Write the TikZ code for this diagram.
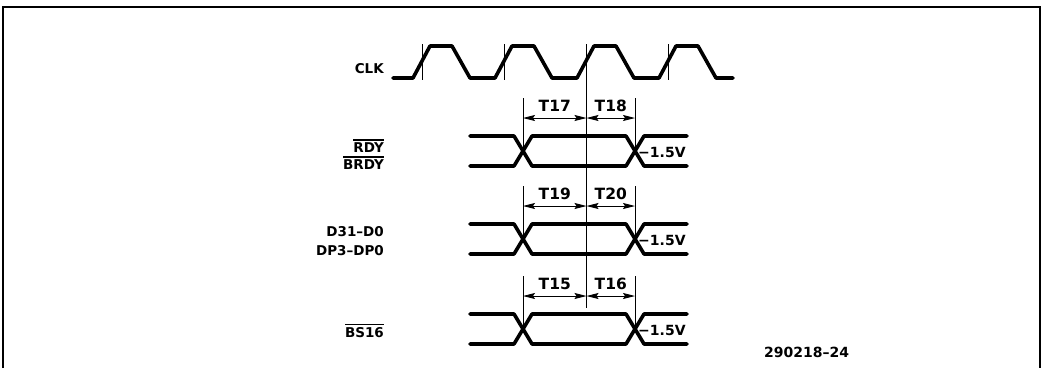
\documentclass[tikz,border=0pt]{standalone}
\usepackage{fontspec}
\setmainfont{DejaVu Sans}
\usepackage{tikz}
\usetikzlibrary{arrows.meta,positioning}
\newcommand{\ovl}[1]{\setbox0\hbox{#1}\rlap{\rule[\dimexpr\ht0+1.5pt\relax]{\wd0}{1.3pt}}\box0}

\begin{document}
\begin{tikzpicture}[
  x=1pt, y=-1pt,
  sig/.style={line width=3.6pt,line cap=round,line join=round},
  hair/.style={line width=0.9pt},
  dim/.style={{Stealth[length=12pt,width=6pt,inset=2pt]}-{Stealth[length=12pt,width=6pt,inset=2pt]},line width=0.9pt},
  lbl/.style={font=\fontsize{13.5}{15}\selectfont\bfseries,inner sep=0pt,anchor=base east},
  tlbl/.style={font=\fontsize{15.5}{17}\selectfont\bfseries,inner sep=0pt,above=6pt},
  vlbl/.style={font=\fontsize{14}{16}\selectfont\bfseries,inner sep=0pt,anchor=base west}
]
  \useasboundingbox (0,0) rectangle (1043,368);
  \draw[line width=1.3pt] (3,368) -- (3,7) -- (1040,7) -- (1040,368);

  % clock
  \draw[sig] (393,78) -- (413,78)
    foreach \k in {1,2,3} {-- ++(17,-32) -- ++(22,0) -- ++(18,32) -- ++(25,0)}
    -- ++(17,-32) -- ++(22,0) -- ++(18,32) -- (733,78);
  \foreach \x in {422.5,504.5,668.5} \draw[hair] (\x,44) -- (\x,80);
  \draw[hair] (586.5,44) -- (586.5,308);

  % signal names
  \node[lbl] (clk) at (384,73) {CLK};
  \node[lbl] (rdy) at (384,152) {\ovl{RDY}};
  \node[lbl] (brdy) at (384,169) {\ovl{BRDY}};
  \node[lbl] (d31) at (384,236) {D31–D0};
  \node[lbl] (dp3) at (384,255) {DP3–DP0};
  \node[lbl] (bs16) at (384,337) {\ovl{BS16}};

  % bus rows
  \foreach \c/\ta/\tb/\nm in {151/T17/T18/rdy,239/T19/T20/dat,329/T15/T16/bs}{
    \draw[sig] (470,\c-15) -- (514,\c-15) -- (532,\c+15) -- (626,\c+15) -- (644,\c-15) -- (687,\c-15);
    \draw[sig] (470,\c+15) -- (514,\c+15) -- (532,\c-15) -- (626,\c-15) -- (644,\c+15) -- (687,\c+15);
    \draw[hair] (523,\c-53) -- (523,\c);
    \draw[hair] (635,\c-53) -- (635,\c);
    \coordinate (\nm-l) at (523,\c-33);
    \coordinate (\nm-m) at (586.5,\c-33);
    \coordinate (\nm-r) at (635,\c-33);
    \draw[dim] (\nm-l) -- node[tlbl] (\nm-ta) {\ta} (\nm-m);
    \draw[dim] (\nm-m) -- node[tlbl] (\nm-tb) {\tb} (\nm-r);
    \node[vlbl] (\nm-v) at (638,\c+6) {−1.5V};
  }

  \node[font=\fontsize{14}{16}\selectfont\bfseries,inner sep=0pt,anchor=base west] (fignum) at (764,357) {290218–24};
\end{tikzpicture}
\end{document}
